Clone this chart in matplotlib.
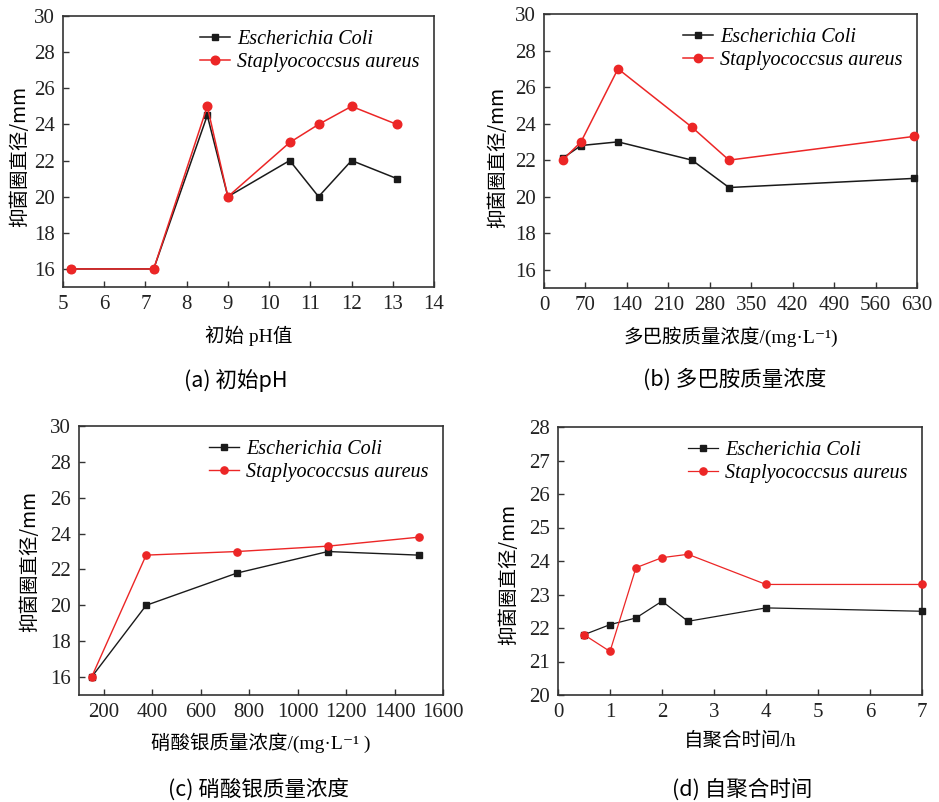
import matplotlib
matplotlib.use('Agg')
from matplotlib import pyplot as plt

plt.rcParams['font.family'] = ['Liberation Serif', 'Noto Sans CJK SC', 'DejaVu Sans']

legend_names = ['Escherichia Coli', 'Staplyococcsus aureus']

# (a) initial pH
ph_x = [5.2, 7.2, 8.5, 9.0, 10.5, 11.2, 12.0, 13.1]
ph_ecoli = [16, 16, 24.5, 20, 22, 20, 22, 21]
ph_staph = [16, 16, 25, 20, 23, 24, 25, 24]

# (b) dopamine concentration
da_x = [31.25, 62.5, 125, 250, 312.5, 625]
da_ecoli = [22.1, 22.8, 23.0, 22.0, 20.5, 21.0]
da_staph = [22.0, 23.0, 27.0, 23.8, 22.0, 23.3]

# (c) silver nitrate concentration
ag_x = [150, 375, 750, 1125, 1500]
ag_ecoli = [16, 20, 21.8, 23.0, 22.8]
ag_staph = [16, 22.8, 23.0, 23.3, 23.8]

# (d) self-polymerisation time
t_x = [0.5, 1, 1.5, 2, 2.5, 4, 7]
t_ecoli = [21.8, 22.1, 22.3, 22.8, 22.2, 22.6, 22.5]
t_staph = [21.8, 21.3, 23.8, 24.1, 24.2, 23.3, 23.3]

W, H = 939, 802
fig = plt.figure(figsize=(W / 100, H / 100), dpi=100)
cjk = ['Noto Sans CJK SC', 'DejaVu Sans']


def make_axes(l, r, t, b):
    return fig.add_axes([l / W, 1 - b / H, (r - l) / W, (b - t) / H])


def style(ax):
    for s in ax.spines.values():
        s.set_color('#333333')
        s.set_linewidth(1.2)
    ax.tick_params(direction='in', length=4, width=1, colors='#333333', pad=6,
                   labelsize=15, labelcolor='#222222', top=False, right=False)


def draw(ax, x, e, s, ms_sq, ms_c, lw, ylab_pos):
    ax.plot(x, e, color='#1a1a1a', marker='s', markersize=ms_sq, lw=lw,
            label=legend_names[0], clip_on=False, zorder=3)
    ax.plot(x, s, color='#ec2626', marker='o', markersize=ms_c, lw=lw,
            label=legend_names[1], clip_on=False, zorder=4)
    ax.legend(loc='upper right', frameon=False, handlelength=1.5,
              handletextpad=0.35, labelspacing=0.2,
              prop={'family': 'Liberation Serif', 'style': 'italic', 'size': 14.5},
              borderaxespad=0.3)
    ax.set_ylabel('抑菌圈直径/mm', fontsize=14, family=cjk)
    ax.yaxis.set_label_coords(*ylab_pos)
    style(ax)


# (a)
ax = make_axes(63, 434, 16, 287)
draw(ax, ph_x, ph_ecoli, ph_staph, 4.2, 6.2, 1.1, (-0.089, 0.48))
ax.set_xlim(5, 14)
ax.set_ylim(15, 30)
ax.set_xticks(range(5, 15))
ax.set_yticks(range(16, 31, 2))
ax.set_xlabel('初始 pH值', fontsize=14, labelpad=8)
fig.text(236 / W, 1 - 380 / H, '(a) 初始pH', ha='center', va='center', fontsize=15.5,
         family=cjk)

# (b)
ax = make_axes(544, 917, 14, 288)
draw(ax, da_x, da_ecoli, da_staph, 4.2, 6.0, 1.1, (-0.0965, 0.478))
ax.set_xlim(0, 630)
ax.set_ylim(15, 30)
ax.set_xticks(range(0, 631, 70))
ax.set_yticks(range(16, 31, 2))
ax.set_xlabel('多巴胺质量浓度/(mg·L⁻¹)', fontsize=14, labelpad=8)
fig.text(735 / W, 1 - 380 / H, '(b) 多巴胺质量浓度', ha='center', va='center', fontsize=15.5,
         family=cjk)

# (c)
ax = make_axes(79, 443, 426, 695)
draw(ax, ag_x, ag_ecoli, ag_staph, 4.2, 5.2, 1.0, (-0.107, 0.495))
ax.set_xlim(98, 1600)
ax.set_ylim(15, 30)
ax.set_xticks(range(200, 1601, 200))
ax.set_yticks(range(16, 31, 2))
ax.set_xlabel('硝酸银质量浓度/(mg·L⁻¹ )', fontsize=14, labelpad=7)
fig.text(258 / W, 1 - 790 / H, '(c) 硝酸银质量浓度', ha='center', va='center', fontsize=15.5,
         family=cjk)

# (d)
ax = make_axes(558, 922, 427, 695)
draw(ax, t_x, t_ecoli, t_staph, 4.2, 5.2, 0.9, (-0.107, 0.45))
ax.set_xlim(0, 7)
ax.set_ylim(20, 28)
ax.set_xticks(range(0, 8))
ax.set_yticks(range(20, 29))
ax.set_xlabel('自聚合时间/h', fontsize=14, labelpad=7)
fig.text(742 / W, 1 - 790 / H, '(d) 自聚合时间', ha='center', va='center', fontsize=15.5,
         family=cjk)

fig.savefig('out.png', dpi=100, facecolor='white')
